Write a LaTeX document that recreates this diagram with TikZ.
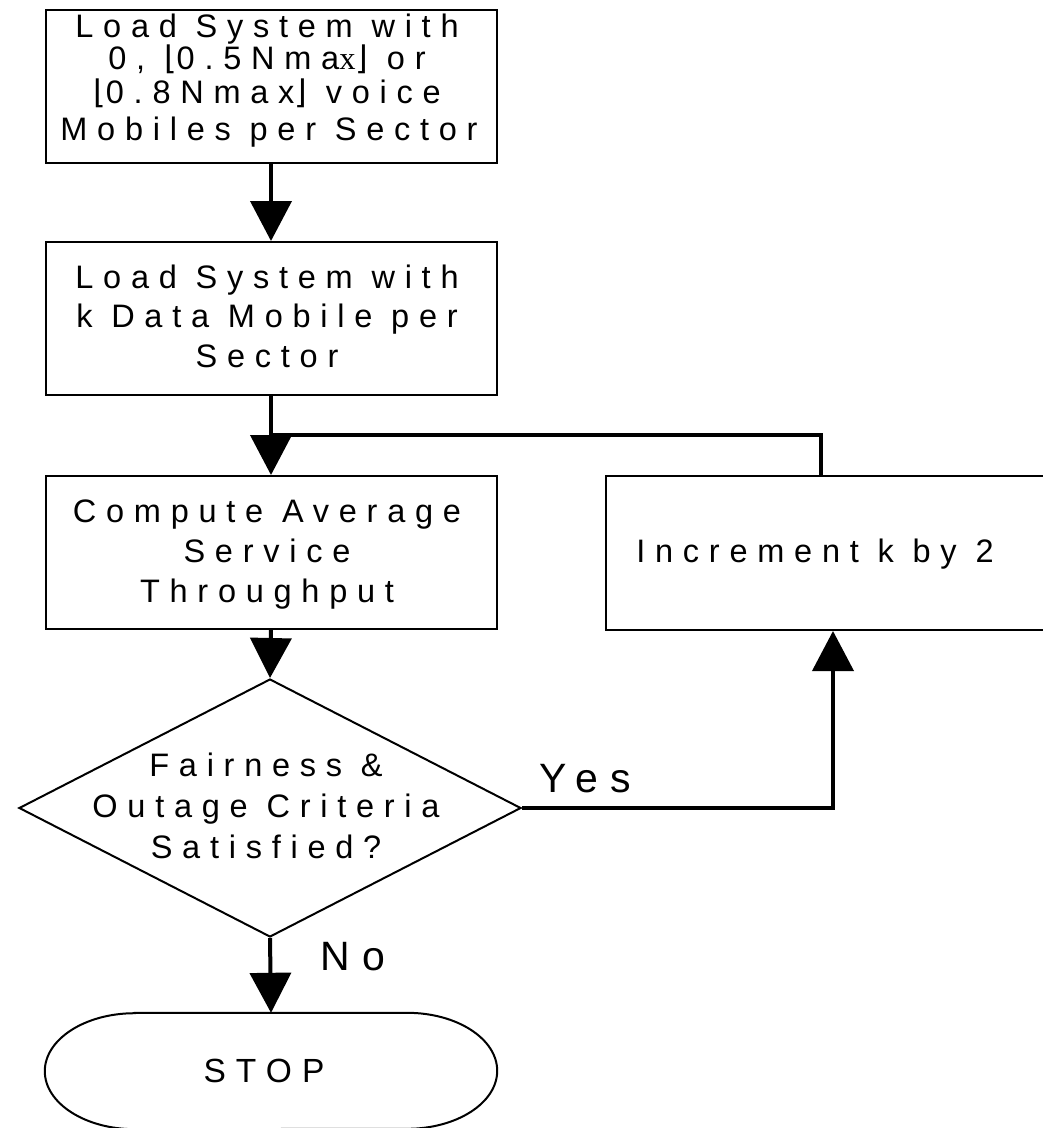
\documentclass[tikz,border=0pt]{standalone}
\usepackage{fontspec}
\setmainfont{Liberation Sans}[LetterSpace=30]
\newfontfamily\brk{DejaVu Sans}[LetterSpace=30]
\newfontfamily\srf{Liberation Serif}[LetterSpace=10]
\usetikzlibrary{arrows.meta,shapes.geometric}
\tikzset{
  box/.style={draw, line width=2pt, inner sep=0pt, minimum width=451pt, minimum height=153pt},
  conn/.style={line width=4pt, -{Triangle[length=40pt,width=41pt]}},
  wire/.style={line width=4pt},
  txt/.style={inner sep=0pt, anchor=base, font=\fontsize{32.5}{38}\selectfont},
  big/.style={inner sep=0pt, anchor=base, font=\fontsize{41}{46}\selectfont},
}
\begin{document}
\begin{tikzpicture}[x=1pt, y=-1pt]
\useasboundingbox (0,0) rectangle (1043,1128);
\clip (0,0) rectangle (1043,1128);

% process boxes
\node[box] (b1) at (271,86.5) {};
\node[box] (b2) at (271,318.5) {};
\node[box] (b3) at (271,552.5) {};
\node[box, minimum width=454pt, minimum height=154pt] (b4) at (833,553) {};
\node[draw, line width=2pt, diamond, inner sep=0pt, minimum width=502pt, minimum height=258pt] (d) at (270,808) {};
\node[inner sep=0pt, minimum width=452pt, minimum height=116pt] (stop) at (271,1071) {};

% terminal outline with elliptic ends
\draw[line width=2pt] ([xshift=90pt]stop.north west) -- ([xshift=-90pt]stop.north east)
  arc[start angle=90, end angle=-90, x radius=90pt, y radius=58pt]
  -- ([xshift=90pt]stop.south west)
  arc[start angle=270, end angle=90, x radius=90pt, y radius=58pt] -- cycle;

% texts
\node[txt] (t1a) at (267,37) {Load System with};
\node[txt] (t1b) at (267,69) {0, {\brk ⌊}0.5Nma{\srf x}{\brk ⌋} or};
\node[txt] (t1c) at (267,103) {{\brk ⌊}0.8Nmax{\brk ⌋} voice};
\node[txt] (t1d) at (269,140) {Mobiles per Sector};

\node[txt] (t2a) at (267,288) {Load System with};
\node[txt] (t2b) at (267,327) {k Data Mobile per};
\node[txt] (t2c) at (267,367) {Sector};

\node[txt] (t3a) at (267,522) {Compute Average};
\node[txt] (t3b) at (267,562) {Service};
\node[txt] (t3c) at (267,602) {Throughput};

\node[txt] (t4) at (815,562) {Increment k by 2};

\node[txt] (tda) at (266,776) {Fairness \&};
\node[txt] (tdb) at (266,817) {Outage Criteria};
\node[txt] (tdc) at (266,858) {Satisfied?};

\node[txt, font=\fontsize{33.5}{38}\selectfont] (ts) at (264,1082) {STOP};

\node[big] (yes) at (585,792) {Yes};
\node[big] (no) at (353,970) {No};

% connectors
\draw[conn] (b1.south) -- (b2.north);
\draw[conn] (b2.south) -- (b3.north);
\draw[wire] ([xshift=-12pt]b4.north) |- (b2.south |- 0,435);
\draw[conn] (b3.south) -- (d.north);
\draw[conn] (d.east) -| (b4.south);
\draw[conn] (d.south) -- (stop.north);
\end{tikzpicture}
\end{document}
